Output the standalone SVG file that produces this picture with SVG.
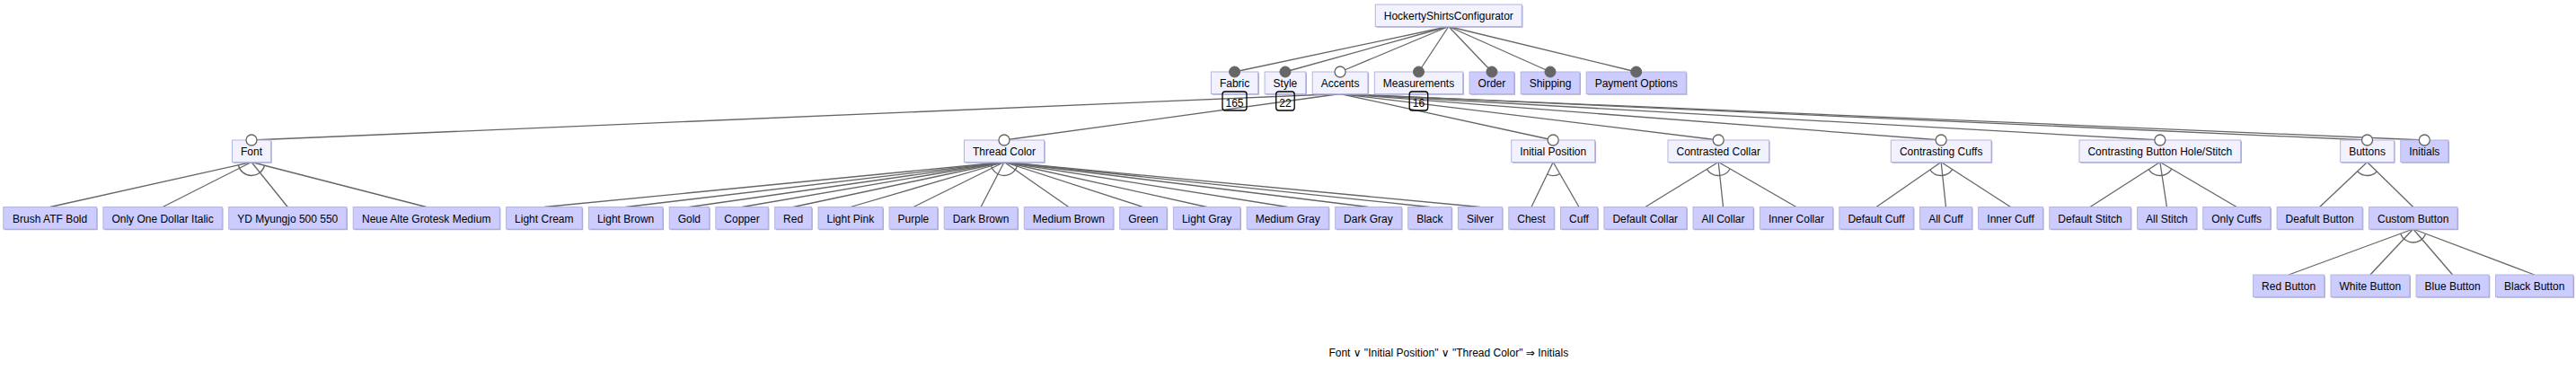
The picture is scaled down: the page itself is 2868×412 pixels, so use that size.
<svg xmlns="http://www.w3.org/2000/svg" width="2868" height="412" viewBox="0 0 2868 412">
<style>
text{font-family:"Liberation Sans",Arial,"DejaVu Sans",sans-serif;font-size:12px;fill:#000;text-anchor:middle}
.b{stroke:#b4b4e2;stroke-width:1}
.sh{fill:#a6a6d0}
.abs .b{fill:#f2f2ff}
.con .b{fill:#ccccff}
#connectors line,#connectors path{stroke:#666;stroke-width:1.3;fill:none}
.m{fill:#666;stroke:#666;stroke-width:1}
.o{fill:#fff;stroke:#666;stroke-width:1.3}
.cnt{fill:none;stroke:#000;stroke-width:1.3}
</style>
<rect width="2868" height="412" fill="#fff"/>
<g id="connectors">
<line x1="1612.8" y1="29.5" x2="1374.55" y2="80"/>
<line x1="1612.8" y1="29.5" x2="1430.95" y2="80"/>
<line x1="1612.8" y1="29.5" x2="1492.05" y2="80"/>
<line x1="1612.8" y1="29.5" x2="1579.5" y2="80"/>
<line x1="1612.8" y1="29.5" x2="1660.95" y2="80"/>
<line x1="1612.8" y1="29.5" x2="1726" y2="80"/>
<line x1="1612.8" y1="29.5" x2="1821.7" y2="80"/>
<line x1="1492.05" y1="104.5" x2="280" y2="156"/>
<line x1="1492.05" y1="104.5" x2="1118" y2="156"/>
<line x1="1492.05" y1="104.5" x2="1729.2" y2="156"/>
<line x1="1492.05" y1="104.5" x2="1913.2" y2="156"/>
<line x1="1492.05" y1="104.5" x2="2161.15" y2="156"/>
<line x1="1492.05" y1="104.5" x2="2404.85" y2="156"/>
<line x1="1492.05" y1="104.5" x2="2635.55" y2="156"/>
<line x1="1492.05" y1="104.5" x2="2699.3" y2="156"/>
<line x1="280" y1="180.5" x2="55.65" y2="230.5"/>
<line x1="280" y1="180.5" x2="181.1" y2="230.5"/>
<line x1="280" y1="180.5" x2="320.25" y2="230.5"/>
<line x1="280" y1="180.5" x2="474.7" y2="230.5"/>
<path d="M265.36,183.76 A15,15 0 0 0 294.53,184.23"/>
<line x1="1118" y1="180.5" x2="605.8" y2="230.5"/>
<line x1="1118" y1="180.5" x2="696.6" y2="230.5"/>
<line x1="1118" y1="180.5" x2="767.35" y2="230.5"/>
<line x1="1118" y1="180.5" x2="826.05" y2="230.5"/>
<line x1="1118" y1="180.5" x2="883.1" y2="230.5"/>
<line x1="1118" y1="180.5" x2="946.85" y2="230.5"/>
<line x1="1118" y1="180.5" x2="1016.95" y2="230.5"/>
<line x1="1118" y1="180.5" x2="1092.05" y2="230.5"/>
<line x1="1118" y1="180.5" x2="1189.8" y2="230.5"/>
<line x1="1118" y1="180.5" x2="1272.85" y2="230.5"/>
<line x1="1118" y1="180.5" x2="1343.6" y2="230.5"/>
<line x1="1118" y1="180.5" x2="1433.7" y2="230.5"/>
<line x1="1118" y1="180.5" x2="1523.45" y2="230.5"/>
<line x1="1118" y1="180.5" x2="1591.85" y2="230.5"/>
<line x1="1118" y1="180.5" x2="1647.9" y2="230.5"/>
<path d="M1103.07,181.96 A15,15 0 0 0 1132.93,181.91"/>
<line x1="1729.2" y1="180.5" x2="1704.95" y2="230.5"/>
<line x1="1729.2" y1="180.5" x2="1758" y2="230.5"/>
<path d="M1722.65,194 A15,15 0 0 0 1736.69,193.5"/>
<line x1="1913.2" y1="180.5" x2="1831.75" y2="230.5"/>
<line x1="1913.2" y1="180.5" x2="1918.5" y2="230.5"/>
<line x1="1913.2" y1="180.5" x2="1999.9" y2="230.5"/>
<path d="M1900.42,188.35 A15,15 0 0 0 1926.19,187.99"/>
<line x1="2161.15" y1="180.5" x2="2089" y2="230.5"/>
<line x1="2161.15" y1="180.5" x2="2166.45" y2="230.5"/>
<line x1="2161.15" y1="180.5" x2="2238.55" y2="230.5"/>
<path d="M2148.82,189.04 A15,15 0 0 0 2173.75,188.64"/>
<line x1="2404.85" y1="180.5" x2="2327" y2="230.5"/>
<line x1="2404.85" y1="180.5" x2="2412.45" y2="230.5"/>
<line x1="2404.85" y1="180.5" x2="2490.2" y2="230.5"/>
<path d="M2392.23,188.61 A15,15 0 0 0 2417.79,188.08"/>
<line x1="2635.55" y1="180.5" x2="2582.6" y2="230.5"/>
<line x1="2635.55" y1="180.5" x2="2686.7" y2="230.5"/>
<path d="M2624.64,190.8 A15,15 0 0 0 2646.28,190.99"/>
<line x1="2686.7" y1="255" x2="2548.1" y2="306"/>
<line x1="2686.7" y1="255" x2="2638.85" y2="306"/>
<line x1="2686.7" y1="255" x2="2730.6" y2="306"/>
<line x1="2686.7" y1="255" x2="2821.7" y2="306"/>
<path d="M2672.62,260.18 A15,15 0 0 0 2700.73,260.3"/>
</g>
<g id="n-root" class="abs"><rect class="sh" x="1532.5" y="6.2" width="163" height="24.5"/><rect class="b" x="1531.3" y="5" width="163" height="24.5"/><text x="1612.8" y="22">HockertyShirtsConfigurator</text></g>
<g id="n-fabric" class="abs"><rect class="sh" x="1349.6" y="81.2" width="52.3" height="24.5"/><rect class="b" x="1348.4" y="80" width="52.3" height="24.5"/><text x="1374.55" y="97">Fabric</text><circle class="m" cx="1374.55" cy="80" r="6"/></g>
<g id="n-style" class="abs"><rect class="sh" x="1409.3" y="81.2" width="45.7" height="24.5"/><rect class="b" x="1408.1" y="80" width="45.7" height="24.5"/><text x="1430.95" y="97">Style</text><circle class="m" cx="1430.95" cy="80" r="6"/></g>
<g id="n-accents" class="abs"><rect class="sh" x="1462.4" y="81.2" width="61.7" height="24.5"/><rect class="b" x="1461.2" y="80" width="61.7" height="24.5"/><text x="1492.05" y="97">Accents</text><circle class="o" cx="1492.05" cy="80" r="6"/></g>
<g id="n-measurements" class="abs"><rect class="sh" x="1531.5" y="81.2" width="98.4" height="24.5"/><rect class="b" x="1530.3" y="80" width="98.4" height="24.5"/><text x="1579.5" y="97">Measurements</text><circle class="m" cx="1579.5" cy="80" r="6"/></g>
<g id="n-order" class="con"><rect class="sh" x="1637.3" y="81.2" width="49.7" height="24.5"/><rect class="b" x="1636.1" y="80" width="49.7" height="24.5"/><text x="1660.95" y="97">Order</text><circle class="m" cx="1660.95" cy="80" r="6"/></g>
<g id="n-shipping" class="con"><rect class="sh" x="1694.4" y="81.2" width="65.6" height="24.5"/><rect class="b" x="1693.2" y="80" width="65.6" height="24.5"/><text x="1726" y="97">Shipping</text><circle class="m" cx="1726" cy="80" r="6"/></g>
<g id="n-payment" class="con"><rect class="sh" x="1767.4" y="81.2" width="111" height="24.5"/><rect class="b" x="1766.2" y="80" width="111" height="24.5"/><text x="1821.7" y="97">Payment Options</text><circle class="m" cx="1821.7" cy="80" r="6"/></g>
<g id="cnt-fabric"><rect class="cnt" x="1361" y="102" width="27" height="21" rx="3"/><text x="1374.5" y="119">165</text></g>
<g id="cnt-style"><rect class="cnt" x="1420.7" y="102" width="20.5" height="21" rx="3"/><text x="1430.95" y="119">22</text></g>
<g id="cnt-measurements"><rect class="cnt" x="1569.2" y="102" width="20.5" height="21" rx="3"/><text x="1579.5" y="119">16</text></g>
<g id="n-font" class="abs"><rect class="sh" x="259.7" y="157.2" width="43" height="24.5"/><rect class="b" x="258.5" y="156" width="43" height="24.5"/><text x="280" y="173">Font</text><circle class="o" cx="280" cy="156" r="6"/></g>
<g id="n-threadcolor" class="abs"><rect class="sh" x="1074.7" y="157.2" width="89" height="24.5"/><rect class="b" x="1073.5" y="156" width="89" height="24.5"/><text x="1118" y="173">Thread Color</text><circle class="o" cx="1118" cy="156" r="6"/></g>
<g id="n-initialposition" class="abs"><rect class="sh" x="1683.9" y="157.2" width="93" height="24.5"/><rect class="b" x="1682.7" y="156" width="93" height="24.5"/><text x="1729.2" y="173">Initial Position</text><circle class="o" cx="1729.2" cy="156" r="6"/></g>
<g id="n-contrastedcollar" class="abs"><rect class="sh" x="1858.2" y="157.2" width="112.4" height="24.5"/><rect class="b" x="1857" y="156" width="112.4" height="24.5"/><text x="1913.2" y="173">Contrasted Collar</text><circle class="o" cx="1913.2" cy="156" r="6"/></g>
<g id="n-contrastingcuffs" class="abs"><rect class="sh" x="2106.5" y="157.2" width="111.7" height="24.5"/><rect class="b" x="2105.3" y="156" width="111.7" height="24.5"/><text x="2161.15" y="173">Contrasting Cuffs</text><circle class="o" cx="2161.15" cy="156" r="6"/></g>
<g id="n-cbhs" class="abs"><rect class="sh" x="2316.2" y="157.2" width="179.7" height="24.5"/><rect class="b" x="2315" y="156" width="179.7" height="24.5"/><text x="2404.85" y="173">Contrasting Button Hole/Stitch</text><circle class="o" cx="2404.85" cy="156" r="6"/></g>
<g id="n-buttons" class="abs"><rect class="sh" x="2606.9" y="157.2" width="59.7" height="24.5"/><rect class="b" x="2605.7" y="156" width="59.7" height="24.5"/><text x="2635.55" y="173">Buttons</text><circle class="o" cx="2635.55" cy="156" r="6"/></g>
<g id="n-initials" class="con"><rect class="sh" x="2674" y="157.2" width="53" height="24.5"/><rect class="b" x="2672.8" y="156" width="53" height="24.5"/><text x="2699.3" y="173">Initials</text><circle class="o" cx="2699.3" cy="156" r="6"/></g>
<g id="n-brush" class="con"><rect class="sh" x="5" y="231.7" width="103.7" height="24.5"/><rect class="b" x="3.8" y="230.5" width="103.7" height="24.5"/><text x="55.65" y="247.5">Brush ATF Bold</text></g>
<g id="n-onlyone" class="con"><rect class="sh" x="116.1" y="231.7" width="132.4" height="24.5"/><rect class="b" x="114.9" y="230.5" width="132.4" height="24.5"/><text x="181.1" y="247.5">Only One Dollar Italic</text></g>
<g id="n-yd" class="con"><rect class="sh" x="255.9" y="231.7" width="131.1" height="24.5"/><rect class="b" x="254.7" y="230.5" width="131.1" height="24.5"/><text x="320.25" y="247.5">YD Myungjo 500 550</text></g>
<g id="n-neue" class="con"><rect class="sh" x="394.4" y="231.7" width="163" height="24.5"/><rect class="b" x="393.2" y="230.5" width="163" height="24.5"/><text x="474.7" y="247.5">Neue Alte Grotesk Medium</text></g>
<g id="n-lightcream" class="con"><rect class="sh" x="564.8" y="231.7" width="84.4" height="24.5"/><rect class="b" x="563.6" y="230.5" width="84.4" height="24.5"/><text x="605.8" y="247.5">Light Cream</text></g>
<g id="n-lightbrown" class="con"><rect class="sh" x="656.6" y="231.7" width="82.4" height="24.5"/><rect class="b" x="655.4" y="230.5" width="82.4" height="24.5"/><text x="696.6" y="247.5">Light Brown</text></g>
<g id="n-gold" class="con"><rect class="sh" x="746.4" y="231.7" width="44.3" height="24.5"/><rect class="b" x="745.2" y="230.5" width="44.3" height="24.5"/><text x="767.35" y="247.5">Gold</text></g>
<g id="n-copper" class="con"><rect class="sh" x="798.1" y="231.7" width="58.3" height="24.5"/><rect class="b" x="796.9" y="230.5" width="58.3" height="24.5"/><text x="826.05" y="247.5">Copper</text></g>
<g id="n-red" class="con"><rect class="sh" x="863.8" y="231.7" width="41" height="24.5"/><rect class="b" x="862.6" y="230.5" width="41" height="24.5"/><text x="883.1" y="247.5">Red</text></g>
<g id="n-lightpink" class="con"><rect class="sh" x="912.2" y="231.7" width="71.7" height="24.5"/><rect class="b" x="911" y="230.5" width="71.7" height="24.5"/><text x="946.85" y="247.5">Light Pink</text></g>
<g id="n-purple" class="con"><rect class="sh" x="991.3" y="231.7" width="53.7" height="24.5"/><rect class="b" x="990.1" y="230.5" width="53.7" height="24.5"/><text x="1016.95" y="247.5">Purple</text></g>
<g id="n-darkbrown" class="con"><rect class="sh" x="1052.4" y="231.7" width="81.7" height="24.5"/><rect class="b" x="1051.2" y="230.5" width="81.7" height="24.5"/><text x="1092.05" y="247.5">Dark Brown</text></g>
<g id="n-mediumbrown" class="con"><rect class="sh" x="1141.5" y="231.7" width="99" height="24.5"/><rect class="b" x="1140.3" y="230.5" width="99" height="24.5"/><text x="1189.8" y="247.5">Medium Brown</text></g>
<g id="n-green" class="con"><rect class="sh" x="1247.9" y="231.7" width="52.3" height="24.5"/><rect class="b" x="1246.7" y="230.5" width="52.3" height="24.5"/><text x="1272.85" y="247.5">Green</text></g>
<g id="n-lightgray" class="con"><rect class="sh" x="1307.6" y="231.7" width="74.4" height="24.5"/><rect class="b" x="1306.4" y="230.5" width="74.4" height="24.5"/><text x="1343.6" y="247.5">Light Gray</text></g>
<g id="n-mediumgray" class="con"><rect class="sh" x="1389.4" y="231.7" width="91" height="24.5"/><rect class="b" x="1388.2" y="230.5" width="91" height="24.5"/><text x="1433.7" y="247.5">Medium Gray</text></g>
<g id="n-darkgray" class="con"><rect class="sh" x="1487.8" y="231.7" width="73.7" height="24.5"/><rect class="b" x="1486.6" y="230.5" width="73.7" height="24.5"/><text x="1523.45" y="247.5">Dark Gray</text></g>
<g id="n-black" class="con"><rect class="sh" x="1568.9" y="231.7" width="48.3" height="24.5"/><rect class="b" x="1567.7" y="230.5" width="48.3" height="24.5"/><text x="1591.85" y="247.5">Black</text></g>
<g id="n-silver" class="con"><rect class="sh" x="1624.6" y="231.7" width="49" height="24.5"/><rect class="b" x="1623.4" y="230.5" width="49" height="24.5"/><text x="1647.9" y="247.5">Silver</text></g>
<g id="n-chest" class="con"><rect class="sh" x="1681" y="231.7" width="50.3" height="24.5"/><rect class="b" x="1679.8" y="230.5" width="50.3" height="24.5"/><text x="1704.95" y="247.5">Chest</text></g>
<g id="n-cuff" class="con"><rect class="sh" x="1738.7" y="231.7" width="41" height="24.5"/><rect class="b" x="1737.5" y="230.5" width="41" height="24.5"/><text x="1758" y="247.5">Cuff</text></g>
<g id="n-defaultcollar" class="con"><rect class="sh" x="1787.1" y="231.7" width="91.7" height="24.5"/><rect class="b" x="1785.9" y="230.5" width="91.7" height="24.5"/><text x="1831.75" y="247.5">Default Collar</text></g>
<g id="n-allcollar" class="con"><rect class="sh" x="1886.2" y="231.7" width="67" height="24.5"/><rect class="b" x="1885" y="230.5" width="67" height="24.5"/><text x="1918.5" y="247.5">All Collar</text></g>
<g id="n-innercollar" class="con"><rect class="sh" x="1960.6" y="231.7" width="81" height="24.5"/><rect class="b" x="1959.4" y="230.5" width="81" height="24.5"/><text x="1999.9" y="247.5">Inner Collar</text></g>
<g id="n-defaultcuff" class="con"><rect class="sh" x="2049" y="231.7" width="82.4" height="24.5"/><rect class="b" x="2047.8" y="230.5" width="82.4" height="24.5"/><text x="2089" y="247.5">Default Cuff</text></g>
<g id="n-allcuff" class="con"><rect class="sh" x="2138.8" y="231.7" width="57.7" height="24.5"/><rect class="b" x="2137.6" y="230.5" width="57.7" height="24.5"/><text x="2166.45" y="247.5">All Cuff</text></g>
<g id="n-innercuff" class="con"><rect class="sh" x="2203.9" y="231.7" width="71.7" height="24.5"/><rect class="b" x="2202.7" y="230.5" width="71.7" height="24.5"/><text x="2238.55" y="247.5">Inner Cuff</text></g>
<g id="n-defaultstitch" class="con"><rect class="sh" x="2283" y="231.7" width="90.4" height="24.5"/><rect class="b" x="2281.8" y="230.5" width="90.4" height="24.5"/><text x="2327" y="247.5">Default Stitch</text></g>
<g id="n-allstitch" class="con"><rect class="sh" x="2380.8" y="231.7" width="65.7" height="24.5"/><rect class="b" x="2379.6" y="230.5" width="65.7" height="24.5"/><text x="2412.45" y="247.5">All Stitch</text></g>
<g id="n-onlycuffs" class="con"><rect class="sh" x="2453.9" y="231.7" width="75" height="24.5"/><rect class="b" x="2452.7" y="230.5" width="75" height="24.5"/><text x="2490.2" y="247.5">Only Cuffs</text></g>
<g id="n-deafultbutton" class="con"><rect class="sh" x="2536.3" y="231.7" width="95" height="24.5"/><rect class="b" x="2535.1" y="230.5" width="95" height="24.5"/><text x="2582.6" y="247.5">Deafult Button</text></g>
<g id="n-custombutton" class="con"><rect class="sh" x="2638.7" y="231.7" width="98.4" height="24.5"/><rect class="b" x="2637.5" y="230.5" width="98.4" height="24.5"/><text x="2686.7" y="247.5">Custom Button</text></g>
<g id="n-redbutton" class="con"><rect class="sh" x="2509.8" y="307.2" width="79" height="24.5"/><rect class="b" x="2508.6" y="306" width="79" height="24.5"/><text x="2548.1" y="323">Red Button</text></g>
<g id="n-whitebutton" class="con"><rect class="sh" x="2596.2" y="307.2" width="87.7" height="24.5"/><rect class="b" x="2595" y="306" width="87.7" height="24.5"/><text x="2638.85" y="323">White Button</text></g>
<g id="n-bluebutton" class="con"><rect class="sh" x="2691.3" y="307.2" width="81" height="24.5"/><rect class="b" x="2690.1" y="306" width="81" height="24.5"/><text x="2730.6" y="323">Blue Button</text></g>
<g id="n-blackbutton" class="con"><rect class="sh" x="2779.7" y="307.2" width="86.4" height="24.5"/><rect class="b" x="2778.5" y="306" width="86.4" height="24.5"/><text x="2821.7" y="323">Black Button</text></g>
<g id="constraint"><text x="1612.8" y="396.5">Font ∨ "Initial Position" ∨ "Thread Color" ⇒ Initials</text></g>
</svg>
